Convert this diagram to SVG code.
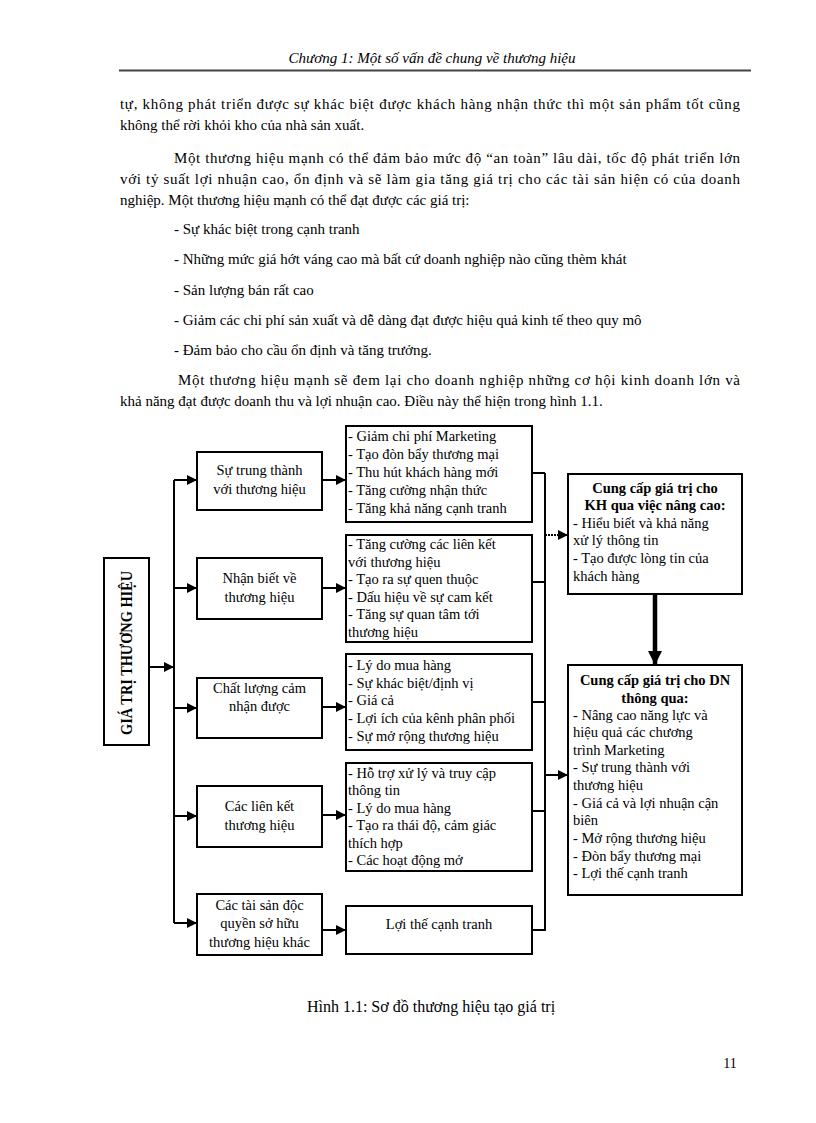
<svg xmlns="http://www.w3.org/2000/svg" width="816" height="1123" viewBox="0 0 816 1123">
<defs>
<style>
.t{font-family:"Liberation Serif","Times New Roman",serif;font-size:15px;fill:#000}
.h{font-family:"Liberation Serif","Times New Roman",serif;font-size:15px;font-style:italic;fill:#000}
.d{font-family:"Liberation Serif","Times New Roman",serif;font-size:14.5px;fill:#000}
.b{font-family:"Liberation Serif","Times New Roman",serif;font-size:14.5px;font-weight:bold;fill:#000}
.c{text-anchor:middle}
.box{fill:#fff;stroke:#000;stroke-width:2}
.ln{fill:none;stroke:#000;stroke-width:2}
</style>
<marker id="ah" viewBox="0 0 10 10" refX="10" refY="5" markerWidth="5" markerHeight="5" orient="auto" markerUnits="strokeWidth">
<path d="M0,0 L10,5 L0,10 z" fill="#000"/>
</marker>
<marker id="ahb" viewBox="0 0 10 10" refX="10" refY="5" markerWidth="3.2" markerHeight="3.2" orient="auto" markerUnits="strokeWidth">
<path d="M0,0 L10,5 L0,10 z" fill="#000"/>
</marker>
</defs>
<rect width="816" height="1123" fill="#fff"/>

<g id="header">
<text class="h c" x="432" y="63">Chương 1: Một số vấn đề chung về thương hiệu</text>
<line x1="119" y1="70.5" x2="751" y2="70.5" stroke="#444" stroke-width="2"/>
</g>

<g id="body">
<text class="t" x="120" y="109" textLength="620" lengthAdjust="spacing">tự, không phát triển được sự khác biệt được khách hàng nhận thức thì một sản phẩm tốt cũng</text>
<text class="t" x="120" y="130">không thể rời khỏi kho của nhà sản xuất.</text>
<text class="t" x="174" y="163" textLength="566" lengthAdjust="spacing">Một thương hiệu mạnh có thể đảm bảo mức độ “an toàn” lâu dài, tốc độ phát triển lớn</text>
<text class="t" x="120" y="184" textLength="620" lengthAdjust="spacing">với tỷ suất lợi nhuận cao, ổn định và sẽ làm gia tăng giá trị cho các tài sản hiện có của doanh</text>
<text class="t" x="120" y="205">nghiệp. Một thương hiệu mạnh có thể đạt được các giá trị:</text>
<text class="t" x="174" y="234">- Sự khác biệt trong cạnh tranh</text>
<text class="t" x="174" y="264">- Những mức giá hớt váng cao mà bất cứ doanh nghiệp nào cũng thèm khát</text>
<text class="t" x="174" y="295">- Sản lượng bán rất cao</text>
<text class="t" x="174" y="325">- Giảm các chi phí sản xuất và dễ dàng đạt được hiệu quả kinh tế theo quy mô</text>
<text class="t" x="174" y="355">- Đảm bảo cho cầu ổn định và tăng trưởng.</text>
<text class="t" x="178" y="385" textLength="562" lengthAdjust="spacing">Một thương hiệu mạnh sẽ đem lại cho doanh nghiệp những cơ hội kinh doanh lớn và</text>
<text class="t" x="120" y="406">khả năng đạt được doanh thu và lợi nhuận cao. Điều này thể hiện trong hình 1.1.</text>
</g>

<g id="connectors">
<line class="ln" x1="149" y1="667" x2="174" y2="667" marker-end="url(#ah)"/>
<path class="ln" d="M174,480 V923"/>
<line class="ln" x1="174" y1="480" x2="197" y2="480" marker-end="url(#ah)"/>
<line class="ln" x1="174" y1="588" x2="197" y2="588" marker-end="url(#ah)"/>
<line class="ln" x1="174" y1="708" x2="197" y2="708" marker-end="url(#ah)"/>
<line class="ln" x1="174" y1="816" x2="197" y2="816" marker-end="url(#ah)"/>
<line class="ln" x1="174" y1="923" x2="197" y2="923" marker-end="url(#ah)"/>
<line class="ln" x1="322" y1="480" x2="346" y2="480" marker-end="url(#ah)"/>
<line class="ln" x1="322" y1="588" x2="346" y2="588" marker-end="url(#ah)"/>
<line class="ln" x1="322" y1="707" x2="346" y2="707" marker-end="url(#ah)"/>
<line class="ln" x1="322" y1="815" x2="346" y2="815" marker-end="url(#ah)"/>
<line class="ln" x1="322" y1="930" x2="346" y2="930" marker-end="url(#ah)"/>
<path class="ln" d="M532,473 H545 M532,582 H545 M532,702 H545 M532,811 H545 M532,930 H545"/>
<path class="ln" d="M545,473 V931"/>
<line class="ln" x1="545" y1="535" x2="568" y2="535" stroke-dasharray="2 1" marker-end="url(#ah)"/>
<line class="ln" x1="545" y1="775" x2="568" y2="775" marker-end="url(#ah)"/>
<line x1="655" y1="594" x2="655" y2="665" stroke="#000" stroke-width="4.5" marker-end="url(#ahb)"/>
</g>

<g id="root">
<rect class="box" x="104" y="558" width="45" height="187"/>
<text class="b c" transform="translate(132,653) rotate(-90)" style="font-size:16px" textLength="164" lengthAdjust="spacingAndGlyphs">GIÁ TRỊ THƯƠNG HIỆU</text>
</g>

<g id="n-trung-thanh">
<rect class="box" x="197" y="452" width="125" height="58"/>
<text class="d c" x="259.5" y="475">Sự trung thành</text>
<text class="d c" x="259.5" y="494">với thương hiệu</text>
</g>
<g id="n-nhan-biet">
<rect class="box" x="197" y="558" width="125" height="61"/>
<text class="d c" x="259.5" y="583">Nhận biết về</text>
<text class="d c" x="259.5" y="602">thương hiệu</text>
</g>
<g id="n-chat-luong">
<rect class="box" x="197" y="678" width="125" height="60"/>
<text class="d c" x="259.5" y="693">Chất lượng cảm</text>
<text class="d c" x="259.5" y="711">nhận được</text>
</g>
<g id="n-lien-ket">
<rect class="box" x="197" y="786" width="125" height="61"/>
<text class="d c" x="259.5" y="811">Các liên kết</text>
<text class="d c" x="259.5" y="830">thương hiệu</text>
</g>
<g id="n-tai-san">
<rect class="box" x="197" y="894" width="125" height="61"/>
<text class="d c" x="259.5" y="910">Các tài sản độc</text>
<text class="d c" x="259.5" y="928">quyền sở hữu</text>
<text class="d c" x="259.5" y="947">thương hiệu khác</text>
</g>

<g id="l-1">
<rect class="box" x="346" y="426" width="186" height="96"/>
<text class="d" x="348" y="441">- Giảm chi phí Marketing</text>
<text class="d" x="348" y="459">- Tạo đòn bẩy thương mại</text>
<text class="d" x="348" y="477">- Thu hút khách hàng mới</text>
<text class="d" x="348" y="495">- Tăng cường nhận thức</text>
<text class="d" x="348" y="513">- Tăng khả năng cạnh tranh</text>
</g>
<g id="l-2">
<rect class="box" x="346" y="535" width="186" height="107"/>
<text class="d" x="348" y="549">- Tăng cường các liên kết</text>
<text class="d" x="348" y="567">với thương hiệu</text>
<text class="d" x="348" y="584">- Tạo ra sự quen thuộc</text>
<text class="d" x="348" y="602">- Dấu hiệu về sự cam kết</text>
<text class="d" x="348" y="619">- Tăng sự quan tâm tới</text>
<text class="d" x="348" y="637">thương hiệu</text>
</g>
<g id="l-3">
<rect class="box" x="346" y="654" width="186" height="96"/>
<text class="d" x="348" y="670">- Lý do mua hàng</text>
<text class="d" x="348" y="688">- Sự khác biệt/định vị</text>
<text class="d" x="348" y="705">- Giá cả</text>
<text class="d" x="348" y="723">- Lợi ích của kênh phân phối</text>
<text class="d" x="348" y="741">- Sự mở rộng thương hiệu</text>
</g>
<g id="l-4">
<rect class="box" x="346" y="763" width="186" height="108"/>
<text class="d" x="348" y="778">- Hỗ trợ xử lý và truy cập</text>
<text class="d" x="348" y="795">thông tin</text>
<text class="d" x="348" y="813">- Lý do mua hàng</text>
<text class="d" x="348" y="830">- Tạo ra thái độ, cảm giác</text>
<text class="d" x="348" y="848">thích hợp</text>
<text class="d" x="348" y="865">- Các hoạt động mở</text>
</g>
<g id="l-5">
<rect class="box" x="346" y="906" width="186" height="48"/>
<text class="d c" x="439" y="929">Lợi thế cạnh tranh</text>
</g>

<g id="kh">
<rect class="box" x="568" y="474" width="174" height="120"/>
<text class="b c" x="655" y="493">Cung cấp giá trị cho</text>
<text class="b c" x="655" y="510">KH qua việc nâng cao:</text>
<text class="d" x="573" y="528">- Hiểu biết và khả năng</text>
<text class="d" x="573" y="545">xử lý thông tin</text>
<text class="d" x="573" y="563">- Tạo được lòng tin của</text>
<text class="d" x="573" y="581">khách hàng</text>
</g>

<g id="dn">
<rect class="box" x="568" y="665" width="174" height="230"/>
<text class="b c" x="655" y="685">Cung cấp giá trị cho DN</text>
<text class="b c" x="655" y="703">thông qua:</text>
<text class="d" x="573" y="720">- Nâng cao năng lực và</text>
<text class="d" x="573" y="737">hiệu quả các chương</text>
<text class="d" x="573" y="755">trình Marketing</text>
<text class="d" x="573" y="772">- Sự trung thành với</text>
<text class="d" x="573" y="790">thương hiệu</text>
<text class="d" x="573" y="808">- Giá cả và lợi nhuận cận</text>
<text class="d" x="573" y="825">biên</text>
<text class="d" x="573" y="843">- Mở rộng thương hiệu</text>
<text class="d" x="573" y="861">- Đòn bẩy thương mại</text>
<text class="d" x="573" y="878">- Lợi thế cạnh tranh</text>
</g>

<g id="caption">
<text class="t c" x="431" y="1012" style="font-size:16px">Hình 1.1: Sơ đồ thương hiệu tạo giá trị</text>
<text class="t c" x="730" y="1068" style="font-size:14px">11</text>
</g>
</svg>
